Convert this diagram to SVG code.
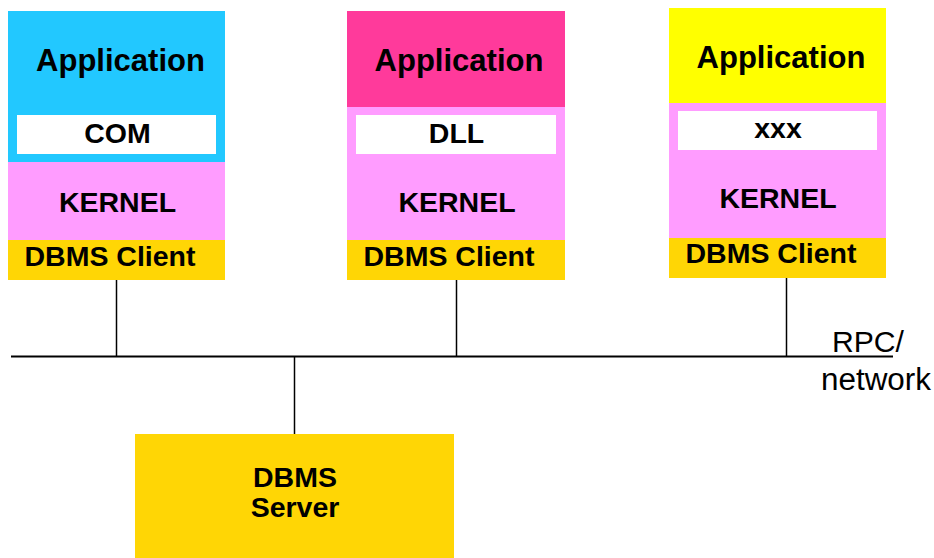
<svg xmlns="http://www.w3.org/2000/svg" width="934" height="558" viewBox="0 0 934 558">
  <style>
    .b { font-family: "Liberation Sans", Arial, sans-serif; font-weight: bold; fill: #000; text-anchor: middle; }
    .app { font-size: 31px; }
    .lbl { font-size: 28.5px; }
    .r { font-family: "Liberation Sans", Arial, sans-serif; fill: #000; }
    .blue { fill: #22C8FF; }
    .mag { fill: #FF3A9B; }
    .yel { fill: #FFFF00; }
    .pink { fill: #FF9CFF; }
    .gold { fill: #FFD605; }
    .white { fill: #FFFFFF; }
    .wire { stroke: #000; fill: none; }
  </style>
  <rect width="934" height="558" fill="#FFFFFF"/>

  <!-- bus and drops -->
  <g id="connectors">
    <line class="wire" x1="11" y1="356.5" x2="893" y2="356.5" stroke-width="2"/>
    <line class="wire" x1="116.5" y1="280" x2="116.5" y2="356" stroke-width="1.5"/>
    <line class="wire" x1="456.5" y1="280" x2="456.5" y2="356" stroke-width="1.5"/>
    <line class="wire" x1="786.5" y1="278" x2="786.5" y2="356" stroke-width="1.5"/>
    <line class="wire" x1="294.5" y1="356" x2="294.5" y2="434" stroke-width="1.5"/>
  </g>

  <!-- client stack with COM -->
  <g id="client-com">
    <rect class="blue" x="8" y="11" width="217" height="151"/>
    <rect class="white" x="17" y="115" width="199" height="39"/>
    <rect class="pink" x="8" y="162" width="217" height="78"/>
    <rect class="gold" x="8" y="240" width="217" height="40"/>
    <text class="b app" x="120.5" y="71">Application</text>
    <text class="b lbl" x="117.5" y="143">COM</text>
    <text class="b lbl" x="117.5" y="211.5">KERNEL</text>
    <text class="b lbl" x="110" y="266">DBMS Client</text>
  </g>

  <!-- client stack with DLL -->
  <g id="client-dll">
    <rect class="mag" x="347" y="11" width="218" height="96"/>
    <rect class="pink" x="347" y="107" width="218" height="133"/>
    <rect class="white" x="356" y="115" width="200" height="39"/>
    <rect class="gold" x="347" y="240" width="218" height="40"/>
    <text class="b app" x="459" y="71">Application</text>
    <text class="b lbl" x="456.5" y="143">DLL</text>
    <text class="b lbl" x="457" y="211.5">KERNEL</text>
    <text class="b lbl" x="449" y="266">DBMS Client</text>
  </g>

  <!-- client stack with xxx -->
  <g id="client-xxx">
    <rect class="yel" x="669" y="8" width="217" height="95"/>
    <rect class="pink" x="669" y="103" width="217" height="135"/>
    <rect class="white" x="678" y="111" width="199" height="39"/>
    <rect class="gold" x="669" y="238" width="217" height="40"/>
    <text class="b app" x="781" y="68">Application</text>
    <text class="b lbl" x="778" y="138">xxx</text>
    <text class="b lbl" x="778" y="208">KERNEL</text>
    <text class="b lbl" x="771" y="263">DBMS Client</text>
  </g>

  <!-- server -->
  <g id="server">
    <rect class="gold" x="135" y="434" width="319" height="124"/>
    <text class="b lbl" x="295" y="487">DBMS</text>
    <text class="b lbl" x="295" y="517">Server</text>
  </g>

  <!-- bus label -->
  <g id="bus-label">
    <text class="r" x="832" y="352" font-size="29" textLength="72" lengthAdjust="spacingAndGlyphs">RPC/</text>
    <text class="r" x="821" y="390" font-size="31" textLength="110" lengthAdjust="spacingAndGlyphs">network</text>
  </g>
</svg>
